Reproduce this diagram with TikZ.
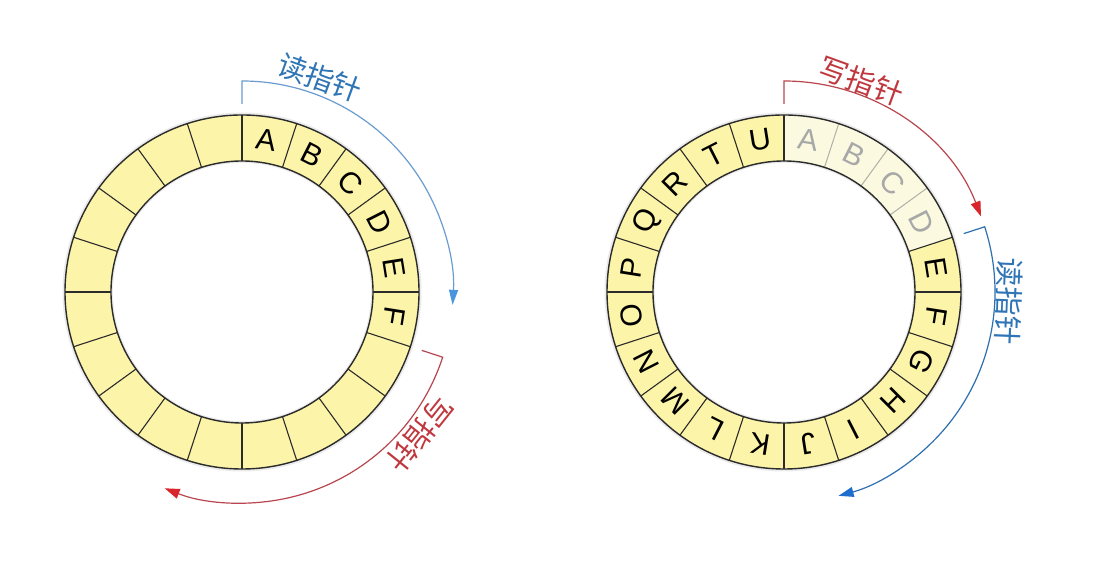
\documentclass[tikz,border=0pt]{standalone}
\usepackage{fontspec}
\setmainfont{Liberation Sans}
\newfontfamily\cjk{Noto Sans CJK SC}
\usetikzlibrary{arrows.meta}
\definecolor{ringfill}{HTML}{FCF4A9}
\definecolor{fadefill}{HTML}{FBFAE0}
\definecolor{ringline}{HTML}{2B2B2B}
\definecolor{fadeline}{HTML}{B0B0A8}
\definecolor{fadetext}{HTML}{A8A8A8}
\definecolor{lblueline}{HTML}{6A9CCF}
\definecolor{lbluetip}{HTML}{4A96DE}
\definecolor{dblueline}{HTML}{2E6FB0}
\definecolor{dbluetip}{HTML}{1E6ECF}
\definecolor{bluetext}{HTML}{2F74B5}
\definecolor{redline}{HTML}{B8464E}
\definecolor{redtip}{HTML}{D8262C}
\definecolor{redtext}{HTML}{C0383E}
\tikzset{
  segline/.style={draw=ringline, line width=1.1pt},
  fadeseg/.style={draw=fadeline, line width=1pt},
  rim/.style={draw=ringline, line width=1.4pt},
  letter/.style={font=\fontsize{30}{30}\selectfont, text=black, inner sep=0pt},
  fadeletter/.style={letter, text=fadetext},
  cjklabel/.style={font=\cjk\fontsize{29}{29}\selectfont, inner sep=0pt},
  pointerarc/.style={line width=1.2pt},
}
\begin{document}
\begin{tikzpicture}[x=1pt,y=1pt]
\useasboundingbox (0,0) rectangle (1100,567);
\fill[white] (0,0) rectangle (1100,567);

% ---------------- left ring ----------------
\begin{scope}[shift={(242,275)}]
  \fill[black, opacity=0.08] (0,0) circle[radius=179.5];
  \fill[white] (0,0) circle[radius=129];
  \fill[ringfill, even odd rule] (0,0) circle[radius=177] (0,0) circle[radius=131];
  \foreach \i in {0,...,19}
    \draw[segline] (90-18*\i:131) -- (90-18*\i:177);
  \draw[rim] (0,0) circle[radius=177];
  \draw[rim] (0,0) circle[radius=131];
  \foreach \l [count=\k from 0] in {A,B,C,D,E,F}
    \node[letter, rotate=-9-18*\k] (L\l) at (81-18*\k:154) {\l};
  % read pointer
  \draw[pointerarc, lblueline, -{Triangle[length=15pt,width=9pt,color=lbluetip]}]
    (90:188) -- (90:211) arc[start angle=90, end angle=-3.5, radius=211];
  \node[cjklabel, text=bluetext, rotate=-20] (lread) at (70:228) {读指针};
  % write pointer
  \draw[pointerarc, redline, -{Triangle[length=15pt,width=10pt,color=redtip]}]
    (-18:189) -- (-18:211) arc[start angle=-18, end angle=-111.5, radius=211];
  \node[cjklabel, text=redtext, rotate=-128.7] (lwrite) at (-38.7:228) {写指针};
\end{scope}

% ---------------- right ring ----------------
\begin{scope}[shift={(784,275)}]
  \fill[black, opacity=0.08] (0,0) circle[radius=179.5];
  \fill[white] (0,0) circle[radius=129];
  \fill[ringfill, even odd rule] (0,0) circle[radius=177] (0,0) circle[radius=131];
  \fill[fadefill] (90:131) -- (90:177) arc[start angle=90, end angle=18, radius=177]
    -- (18:131) arc[start angle=18, end angle=90, radius=131] -- cycle;
  \foreach \i in {1,2,3}
    \draw[fadeseg] (90-18*\i:131) -- (90-18*\i:177);
  \foreach \i in {0,4,5,...,19}
    \draw[segline] (90-18*\i:131) -- (90-18*\i:177);
  \draw[rim] (0,0) circle[radius=177];
  \draw[rim] (0,0) circle[radius=131];
  \foreach \l [count=\k from 0] in {A,B,C,D}
    \node[fadeletter, rotate=-9-18*\k] (R\l) at (81-18*\k:154) {\l};
  \foreach \l [count=\k from 4] in {E,F,G,H,I,J,K,L,M,N,O,P,Q,R,T,U}
    \node[letter, rotate=-9-18*\k] (R\l) at (81-18*\k:154) {\l};
  % write pointer
  \draw[pointerarc, redline, -{Triangle[length=15pt,width=10pt,color=redtip]}]
    (90:188) -- (90:211) arc[start angle=90, end angle=21, radius=211];
  \node[cjklabel, text=redtext, rotate=-20] (rwrite) at (69.9:225) {写指针};
  % read pointer
  \draw[pointerarc, dblueline, -{Triangle[length=15pt,width=10pt,color=dbluetip]}]
    (18:189) -- (18:211) arc[start angle=18, end angle=-75, radius=211];
  \node[cjklabel, text=bluetext, rotate=-92.3] (rread) at (-2.3:225) {读指针};
\end{scope}
\end{tikzpicture}
\end{document}
